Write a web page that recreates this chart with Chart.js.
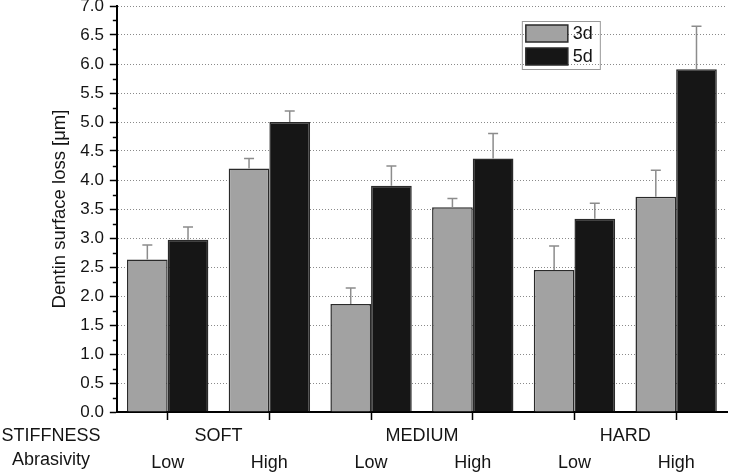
<!DOCTYPE html>
<html>
<head>
<meta charset="utf-8">
<script src="https://cdn.jsdelivr.net/npm/chart.js@4.4.1/dist/chart.umd.min.js"></script>
<style>
  html, body { margin: 0; padding: 0; background: #fff; }
  #wrap { width: 729px; height: 473px; }
</style>
</head>
<body>
<div id="wrap"><canvas id="chart" width="729" height="473"></canvas></div>
<script>
/* --------------------------------------
   DATA
-------------------------------------- */
const abrasivity = ["Low", "High", "Low", "High", "Low", "High"];
const stiffness = ["SOFT", "MEDIUM", "HARD"];
const seriesNames = ["3d", "5d"];
const loss3d = [2.63, 4.20, 1.86, 3.53, 2.45, 3.71];
const loss5d = [2.97, 5.00, 3.90, 4.37, 3.33, 5.91];
const err3d = [0.25, 0.17, 0.28, 0.15, 0.41, 0.46];
const err5d = [0.22, 0.19, 0.34, 0.43, 0.27, 0.74];
const yMin = 0;
const yMax = 7;
const yStep = 0.5;

const FONT = "'Liberation Sans', Arial, sans-serif";
const TEXT = "#141414";
const fills = ["#a2a2a2", "#161616"];

Chart.defaults.font.family = FONT;
Chart.defaults.color = TEXT;

/* error bars: upper whisker only */
const errorBars = {
  id: "errorBars",
  afterDatasetsDraw(chart) {
    const { ctx } = chart;
    const y = chart.scales.y;
    const errs = [err3d, err5d];
    ctx.save();
    ctx.strokeStyle = "#8c8c8c";
    ctx.lineWidth = 1.5;
    chart.data.datasets.forEach((ds, d) => {
      chart.getDatasetMeta(d).data.forEach((bar, i) => {
        const top = y.getPixelForValue(ds.data[i] + errs[d][i]);
        ctx.beginPath();
        ctx.moveTo(bar.x, bar.y);
        ctx.lineTo(bar.x, top);
        ctx.moveTo(bar.x - 5, top);
        ctx.lineTo(bar.x + 5, top);
        ctx.stroke();
      });
    });
    ctx.restore();
  },
};

/* minor ticks on the y axis + row captions + legend */
const extras = {
  id: "extras",
  afterDraw(chart) {
    const { ctx, chartArea } = chart;
    const y = chart.scales.y;
    ctx.save();

    ctx.strokeStyle = "#000";
    ctx.lineWidth = 1.5;
    for (let v = yMin + yStep / 2; v < yMax; v += yStep) {
      const py = Math.round(y.getPixelForValue(v)) + 0.5;
      ctx.beginPath();
      ctx.moveTo(chartArea.left - 4, py);
      ctx.lineTo(chartArea.left, py);
      ctx.stroke();
    }

    ctx.fillStyle = TEXT;
    ctx.font = "18px " + FONT;
    ctx.textAlign = "center";
    ctx.textBaseline = "middle";
    ctx.fillText("STIFFNESS", 51, chart.scales.xs.top + 16);
    ctx.fillText("Abrasivity", 51, chart.scales.xa.top + 14);

    // legend box
    const lx = chartArea.left + 405;
    const ly = chartArea.top + 15;
    ctx.strokeStyle = "#9a9a9a";
    ctx.lineWidth = 1;
    ctx.strokeRect(lx + 0.5, ly + 0.5, 78, 48);
    ctx.textAlign = "left";
    chart.data.datasets.forEach((ds, d) => {
      const sy = ly + 4 + d * 23;
      ctx.fillStyle = ds.backgroundColor;
      ctx.fillRect(lx + 4, sy, 42, 17);
      ctx.strokeStyle = "#2a2a2a";
      ctx.lineWidth = 1.5;
      ctx.strokeRect(lx + 4, sy, 42, 17);
      ctx.fillStyle = TEXT;
      ctx.fillText(ds.label, lx + 51, sy + 9);
    });
    ctx.restore();
  },
};

new Chart(document.getElementById("chart"), {
  type: "bar",
  data: {
    labels: abrasivity,
    datasets: [
      {
        label: seriesNames[0],
        data: loss3d,
        backgroundColor: fills[0],
        borderColor: "#2a2a2a",
        borderWidth: 1.5,
        categoryPercentage: 0.8,
        barPercentage: 1.0,
      },
      {
        label: seriesNames[1],
        data: loss5d,
        backgroundColor: fills[1],
        borderColor: "#2a2a2a",
        borderWidth: 1.5,
        categoryPercentage: 0.8,
        barPercentage: 1.0,
      },
    ],
  },
  options: {
    responsive: false,
    animation: false,
    layout: { padding: { left: 42, right: 2, top: 6, bottom: 0 } },
    plugins: {
      legend: { display: false },
      tooltip: { enabled: false },
    },
    scales: {
      x: {
        type: "category",
        position: "bottom",
        weight: 0,
        offset: true,
        ticks: { display: false },
        grid: {
          drawOnChartArea: false,
          offset: false,
          tickLength: 8,
          tickColor: "#000",
          tickWidth: 1.5,
        },
        border: { color: "#000", width: 2 },
      },
      xs: {
        type: "category",
        position: "bottom",
        weight: 1,
        labels: stiffness,
        offset: true,
        ticks: { font: { size: 18 }, padding: 5, maxRotation: 0, autoSkip: false, color: TEXT },
        grid: { display: false, drawTicks: false },
        border: { display: false },
        afterFit: (s) => { s.height = 26; },
      },
      xa: {
        type: "category",
        position: "bottom",
        weight: 2,
        labels: abrasivity,
        offset: true,
        ticks: { font: { size: 18 }, padding: 6, maxRotation: 0, autoSkip: false, color: TEXT },
        grid: { display: false, drawTicks: false },
        border: { display: false },
        afterFit: (s) => { s.height = 27; },
      },
      y: {
        min: yMin,
        max: yMax,
        afterFit: (s) => { s.paddingTop = 0; },
        ticks: {
          stepSize: yStep,
          padding: 6,
          font: { size: 17 },
          color: TEXT,
          callback: (v) => Number(v).toFixed(1),
        },
        grid: {
          color: "#8a8a8a",
          lineWidth: 1,
          tickLength: 7,
          tickColor: "#000",
          tickWidth: 1.5,
        },
        border: { color: "#000", width: 2, dash: [1, 2] },
        title: {
          display: true,
          text: "Dentin surface loss [μm]",
          font: { size: 18.5 },
          color: TEXT,
          padding: { top: 7, bottom: 3 },
        },
      },
    },
  },
  plugins: [errorBars, extras],
});
</script>
</body>
</html>
